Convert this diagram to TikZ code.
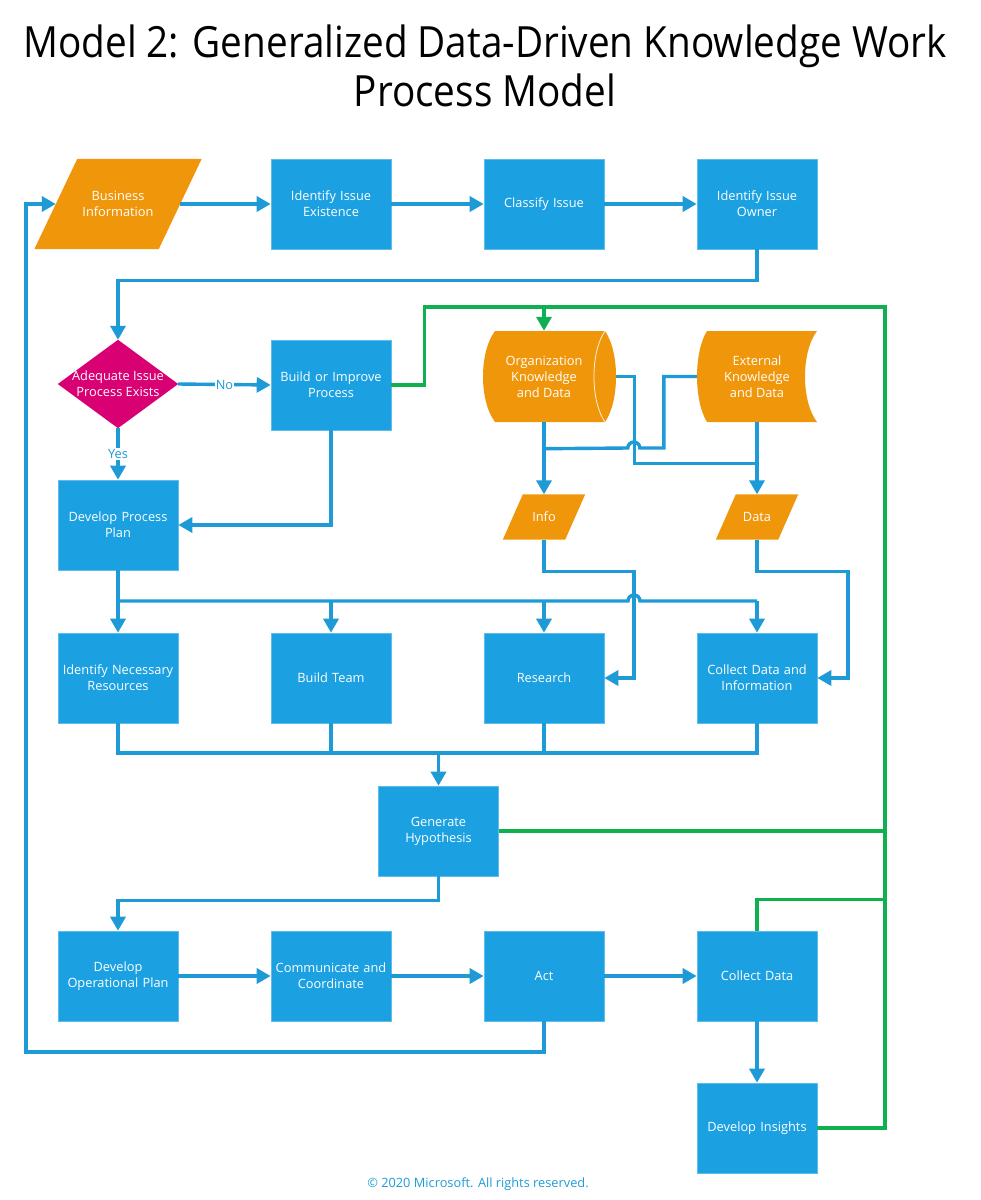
\documentclass[tikz,border=0pt]{standalone}
\usepackage{fontspec}
\setmainfont{Open Sans}
\newfontfamily\titlefont[FakeStretch=0.9]{Open Sans}
\usetikzlibrary{arrows.meta,calc}
\definecolor{boxblue}{RGB}{27,161,226}
\definecolor{lineblue}{RGB}{30,155,215}
\definecolor{orng}{RGB}{240,150,10}
\definecolor{magen}{RGB}{216,0,115}
\definecolor{grn}{RGB}{16,176,80}
\tikzset{
  boxfont/.style={font=\fontsize{12.8}{16}\selectfont},
  pbox/.style={rectangle, fill=boxblue, draw=boxblue!70!white, line width=0.6pt,
    minimum width=120pt, minimum height=90pt, inner sep=1pt, text=white,
    align=center, text width=118pt, boxfont},
  ghost/.style={rectangle, inner sep=1pt, text=white, align=center, boxfont},
  line/.style={draw=lineblue, line width=3.4pt},
  arr/.style={line, -{Triangle[length=14pt,width=15pt]}},
  gline/.style={draw=grn, line width=3.4pt},
  garr/.style={gline, -{Triangle[length=14pt,width=15pt]}},
  lbl/.style={fill=white, text=lineblue, inner sep=1pt, boxfont}
}
\begin{document}
\begin{tikzpicture}[x=1pt,y=-1pt]
\useasboundingbox (0,0) rectangle (981,1200);
% title
\node[font=\titlefont\fontsize{43}{49}\selectfont, align=center] (title) at (485,66)
  {Model 2: Generalized Data-Driven Knowledge Work\\Process Model};
% row 1
\node[ghost, minimum width=124pt, minimum height=90pt] (bi) at (118,204) {};
\fill[orng] ([xshift=21.5pt]bi.north west) -- ([xshift=21.5pt]bi.north east)
  -- ([xshift=-21.5pt]bi.south east) -- ([xshift=-21.5pt]bi.south west) -- cycle;
\node[ghost] at (bi) {Business\\Information};
\node[pbox] (iie) at (331,204) {Identify Issue\\Existence};
\node[pbox] (ci) at (544,204) {Classify Issue};
\node[pbox] (iio) at (757,204) {Identify Issue\\Owner};
% row 2
\node[ghost, minimum width=120pt, minimum height=88pt] (aip) at (118,384) {};
\fill[magen] (aip.north) -- (aip.east) -- (aip.south) -- (aip.west) -- cycle;
\node[ghost] at (aip) {Adequate Issue\\Process Exists};
\node[pbox] (bip) at (331,385) {Build or Improve\\Process};
% organization knowledge (cylinder)
\fill[orng] (605,331) -- (495,331) .. controls (479,352) and (479,401) .. (495,422)
  -- (605,422) .. controls (619.7,401) and (619.7,352) .. (605,331) -- cycle;
\draw[white!85!orng, line width=0.8pt] (605,331) .. controls (590.3,352) and (590.3,401) .. (605,422);
\node[ghost, minimum width=144pt, minimum height=91pt] (org) at (544,376.5) {Organization\\Knowledge\\and Data};
% external knowledge
\fill[orng] (817,331) -- (707,331) .. controls (693.7,352) and (693.7,401) .. (707,422)
  -- (817,422) .. controls (801,401) and (801,352) .. (817,331) -- cycle;
\node[ghost, minimum width=120pt, minimum height=91pt] (ext) at (757,376.5) {External\\Knowledge\\and Data};
% row info/data
\node[pbox] (dpp) at (118,525) {Develop Process\\Plan};
\node[ghost, minimum width=62pt, minimum height=45pt] (info) at (544,517) {};
\fill[orng] ([xshift=10pt]info.north west) -- ([xshift=10pt]info.north east)
  -- ([xshift=-10pt]info.south east) -- ([xshift=-10pt]info.south west) -- cycle;
\node[ghost] at (info) {Info};
\node[ghost, minimum width=62pt, minimum height=45pt] (data) at (757,517) {};
\fill[orng] ([xshift=10pt]data.north west) -- ([xshift=10pt]data.north east)
  -- ([xshift=-10pt]data.south east) -- ([xshift=-10pt]data.south west) -- cycle;
\node[ghost] at (data) {Data};
% row 3
\node[pbox] (inr) at (118,678) {Identify Necessary\\Resources};
\node[pbox] (bt) at (331,678) {Build Team};
\node[pbox] (res) at (544,678) {Research};
\node[pbox] (cdi) at (757,678) {Collect Data and\\Information};
% row 4
\node[pbox] (gh) at (438.5,831) {Generate\\Hypothesis};
% row 5
\node[pbox] (dop) at (118,976) {Develop\\Operational Plan};
\node[pbox] (cc) at (331,976) {Communicate and\\Coordinate};
\node[pbox] (act) at (544,976) {Act};
\node[pbox] (cd) at (757,976) {Collect Data};
\node[pbox] (di) at (757,1128) {Develop Insights};
% copyright
\node[text=lineblue, boxfont] (copy) at (478,1184) {© 2020 Microsoft. All rights reserved.};

% coordinates
\coordinate (gtop) at (885,307);
\coordinate (gbot) at (885,1128);
\coordinate (bus1) at (118,601);
\coordinate (bus2) at (438.5,753);
\coordinate (rail) at (26,1052);

% blue connectors
\draw[arr] (bi.east) -- (iie.west);
\draw[arr] (iie.east) -- (ci.west);
\draw[arr] (ci.east) -- (iio.west);
\draw[arr] (iio.south) -- ++(0,31) -| (aip.north);
\draw[arr] (aip.east) -- node[lbl]{No} (bip.west);
\draw[arr] (aip.south) -- node[lbl, pos=0.5]{Yes} (dpp.north);
\draw[arr] (bip.south) |- (dpp.east);
\draw[arr] (org.south) -- (info.north);
\draw[arr] (ext.south) -- (data.north);
\draw[line] (org.east) -- ++(18,0) |- ([yshift=-41pt]ext.south);
\draw[line] (ext.west) -- ++(-33,0) -- ++(0,71.5) -- ++(-24,0)
  arc[start angle=0, end angle=180, radius=6pt] -- ([yshift=-26.5pt]org.south);
\draw[arr] (info.south) -- ++(0,31.5) -- ++(90,0) |- (res.east);
\draw[arr] (data.south) -- ++(0,31.5) -- ++(91,0) |- (cdi.east);
\draw[arr] (dpp.south) -- (inr.north);
\draw[line] (bus1) -- (628,601) arc[start angle=180, end angle=0, radius=6pt] -- (757,601);
\draw[arr] (bus1 -| bt.north) -- (bt.north);
\draw[arr] (bus1 -| res.north) -- (res.north);
\draw[arr] (bus1 -| cdi.north) -- (cdi.north);
\draw[line] (inr.south) |- (bus2) -| (cdi.south);
\draw[line] (bt.south) -- (bt.south |- bus2);
\draw[line] (res.south) -- (res.south |- bus2);
\draw[arr] (bus2) -- (gh.north);
\draw[arr] (gh.south) -- ++(0,24) -| (dop.north);
\draw[arr] (dop.east) -- (cc.west);
\draw[arr] (cc.east) -- (act.west);
\draw[arr] (act.east) -- (cd.west);
\draw[arr] (act.south) -- (act.south |- rail) -- (rail) |- (bi.west);
\draw[arr] (cd.south) -- (di.north);

% green connectors
\draw[gline] (bip.east) -- ++(33,0) |- (gtop) -- (gbot) -- (di.east);
\draw[gline] (gh.east) -- (gh.east -| gtop);
\draw[gline] (cd.north) -- ++(0,-31) -- ([yshift=31pt]cd.north -| gtop);
\draw[garr] (gtop -| org.north) -- (org.north);
\end{tikzpicture}
\end{document}
